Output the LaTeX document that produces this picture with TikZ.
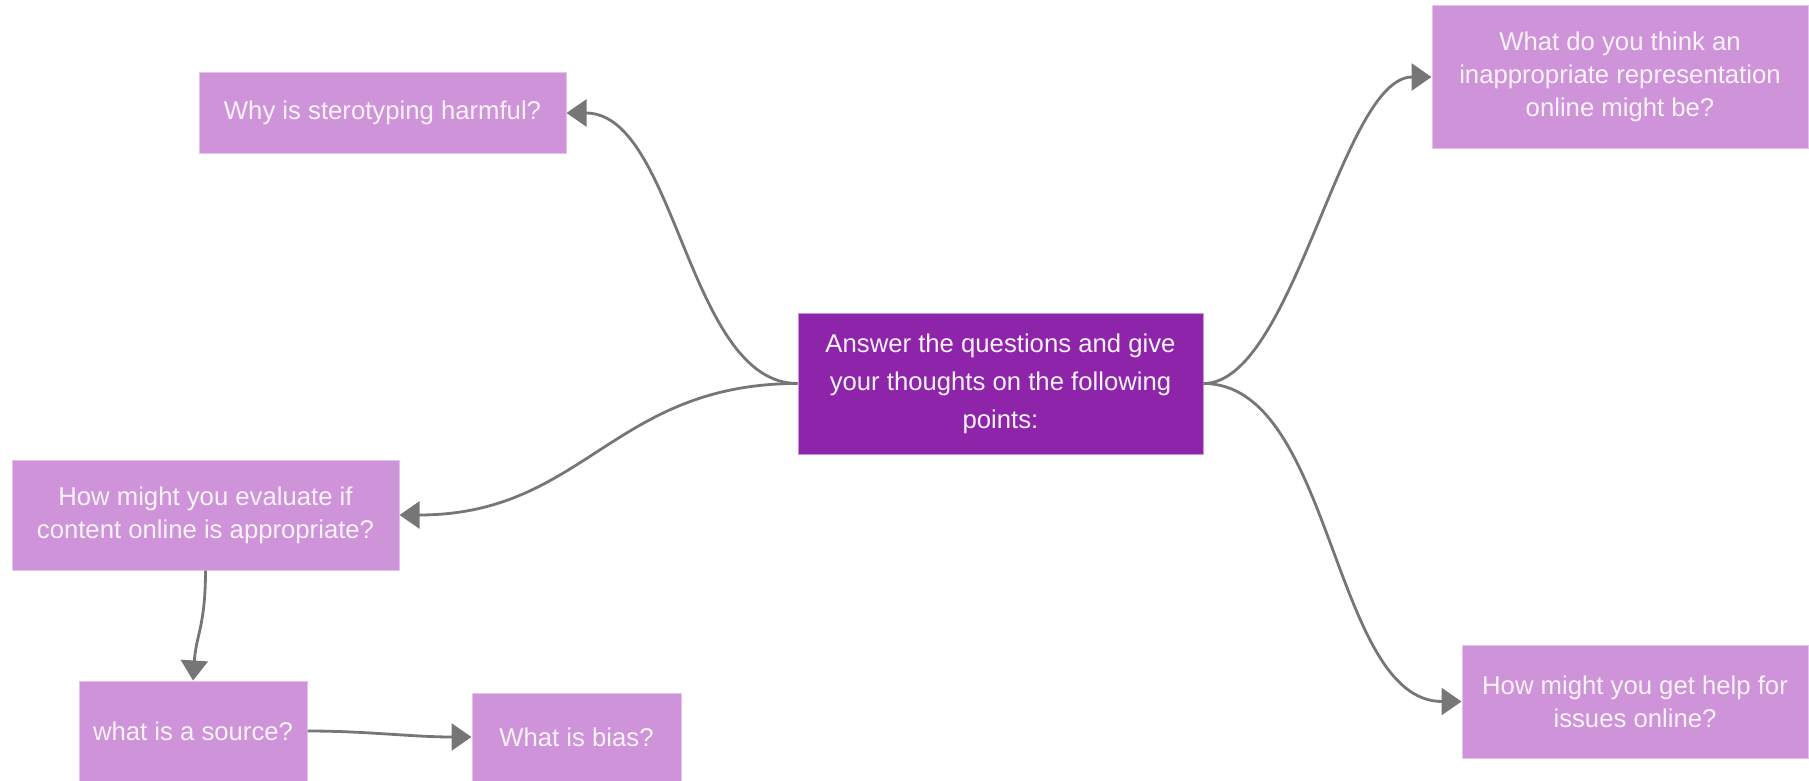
\documentclass[tikz,border=0pt]{standalone}
\usepackage{fontspec}
\setmainfont{Liberation Sans}
\usetikzlibrary{arrows.meta}
\definecolor{hubfill}{HTML}{8E24AA}
\definecolor{leaffill}{HTML}{CE93D8}
\definecolor{leafedge}{HTML}{E2C4E8}
\definecolor{linkgray}{HTML}{767676}
\definecolor{ink}{HTML}{FBF3FC}

\begin{document}
\begin{tikzpicture}[x=0.5pt,y=-0.5pt,
  box/.style={fill=leaffill, draw=leafedge, line width=0.5pt, text=ink,
    align=center, inner sep=0pt, font=\fontsize{12.85}{16.5}\selectfont},
  hubbox/.style={box, fill=hubfill, draw=leaffill, font=\fontsize{12.85}{19}\selectfont},
  connector/.style={draw=linkgray, line width=1.4pt,
    -{Triangle[length=10pt,width=13.5pt]}}
]
\useasboundingbox (0,0) rectangle (1809,781);

% central topic
\node[hubbox, minimum width=202.5pt, minimum height=70.5pt] (hub) at (1000.5,383.5)
  {Answer the questions and give\\your thoughts on the following\\points:};

% branches
\node[box, minimum width=183.5pt, minimum height=40pt] (why) at (382.5,113)
  {Why is sterotyping harmful?};
\node[box, minimum width=193.5pt, minimum height=55pt] (eval) at (205.5,515)
  {How might you evaluate if\\content online is appropriate?};
\node[box, minimum width=114pt, minimum height=50pt] (src) at (193,731)
  {what is a source?};
\node[box, minimum width=104.5pt, minimum height=44pt] (bias) at (576.5,737)
  {What is bias?};
\node[box, minimum width=188pt, minimum height=71pt] (rep) at (1620,77)
  {What do you think an\\inappropriate representation\\online might be?};
\node[box, minimum width=173pt, minimum height=56.5pt] (help) at (1635,701.5)
  {How might you get help for\\issues online?};

% connectors
\draw[connector] (hub.west) .. controls +(-110,0) and +(110,0) .. (why.east);
\draw[connector] (hub.west) .. controls +(-185,0) and +(185,0) .. (eval.east);
\draw[connector] (hub.east) .. controls +(90,0) and +(-90,0) .. (rep.west);
\draw[connector] (hub.east) .. controls +(130,0) and +(-130,0) .. (help.west);
\draw[connector] (eval.south) .. controls +(0,55) and +(3,-45) .. (src.north);
\draw[connector] (src.east) .. controls +(60,0) and +(-60,0) .. (bias.west);
\end{tikzpicture}
\end{document}
